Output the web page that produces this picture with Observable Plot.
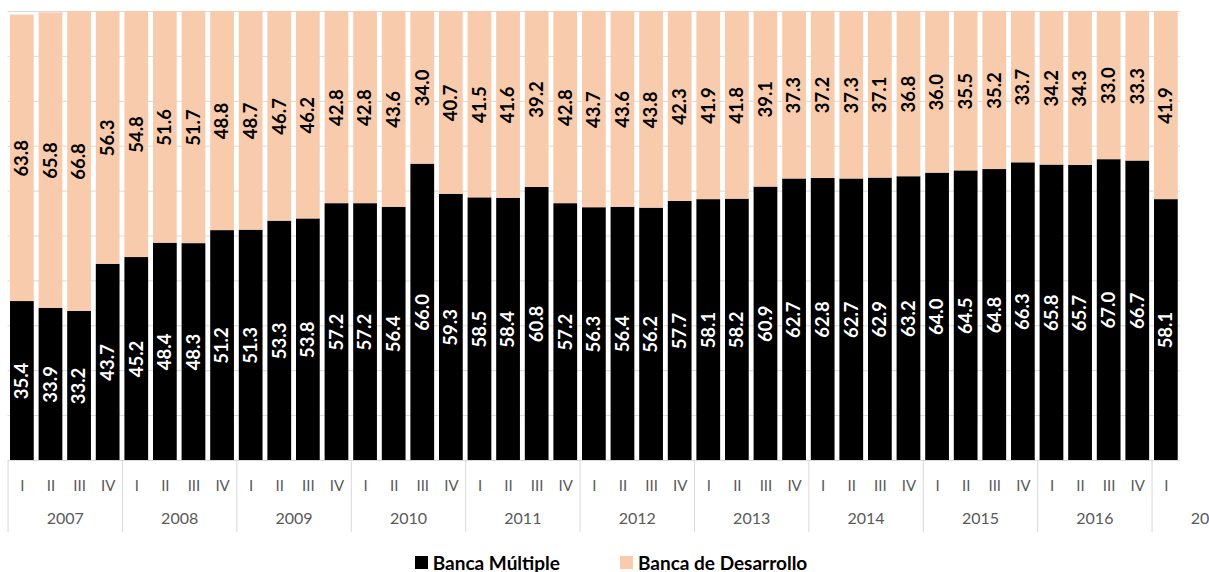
<!DOCTYPE html>
<html>
<head>
<meta charset="utf-8">
<script src="https://cdn.jsdelivr.net/npm/d3@7"></script>
<script src="https://cdn.jsdelivr.net/npm/@observablehq/plot@0.6"></script>
<style>
  html, body { margin: 0; padding: 0; background: #fff; overflow: hidden; }
  body { font-family: Lato, "Open Sans", sans-serif; width: 1209px; }
  #legend { display: flex; justify-content: center; align-items: center; gap: 60px; height: 27px; padding-left: 13px; padding-top: 4px;
            font-weight: bold; font-size: 19px; color: #000; }
  #legend .item { display: flex; align-items: center; gap: 5px; }
  #legend .sw { width: 13px; height: 13px; display: inline-block; }
</style>
</head>
<body>
<div id="chart"></div>
<div id="legend"></div>
<script>
const years = ["2007","2008","2009","2010","2011","2012","2013","2014","2015","2016","2017"];
const quarterLabels = ["I","II","III","IV"];
const seriesNames = ["Banca Múltiple","Banca de Desarrollo"];
const seriesColors = ["#000000","#F8CBAD"];
const bancaMultiple = [
  35.4,33.9,33.2,43.7, 45.2,48.4,48.3,51.2, 51.3,53.3,53.8,57.2, 57.2,56.4,66.0,59.3,
  58.5,58.4,60.8,57.2, 56.3,56.4,56.2,57.7, 58.1,58.2,60.9,62.7, 62.8,62.7,62.9,63.2,
  64.0,64.5,64.8,66.3, 65.8,65.7,67.0,66.7, 58.1
];
const bancaDesarrollo = [
  63.8,65.8,66.8,56.3, 54.8,51.6,51.7,48.8, 48.7,46.7,46.2,42.8, 42.8,43.6,34.0,40.7,
  41.5,41.6,39.2,42.8, 43.7,43.6,43.8,42.3, 41.9,41.8,39.1,37.3, 37.2,37.3,37.1,36.8,
  36.0,35.5,35.2,33.7, 34.2,34.3,33.0,33.3, 41.9
];

const rows = bancaMultiple.map((bm, i) => ({
  key: years[Math.floor(i / 4)] + "-" + quarterLabels[i % 4],
  bm, bd: bancaDesarrollo[i]
}));
const keys = rows.map(d => d.key);
const q1Keys = keys.filter(k => k.endsWith("-I"));

const W = 1209, H = 545, MT = 11, MB = 85;
const PAD = 0.17;
const step = 28.6;
const ML = 10 - PAD * step;                       // first bar starts at x = 10
const MR = W - (ML + step * (keys.length + PAD));
const axisColor = "#595959";
const gridColor = "#d9d9d9";

const chart = Plot.plot({
  width: W, height: H,
  marginLeft: ML, marginRight: MR, marginTop: MT, marginBottom: MB,
  style: { fontFamily: "Lato, 'Open Sans', sans-serif", background: "#fff", overflow: "visible" },
  x: { domain: keys, padding: PAD, round: false, axis: null, label: null },
  y: { domain: [0, 100], axis: null },
  marks: [
    Plot.ruleY(d3.range(0, 101, 10), { stroke: gridColor, strokeWidth: 1, insetLeft: 2.4, insetRight: 2.4 }),
    Plot.barY(rows, { x: "key", y1: 0, y2: "bm", fill: seriesColors[0] }),
    Plot.barY(rows, { x: "key", y1: "bm", y2: d => d.bm + d.bd, fill: seriesColors[1] }),
    Plot.text(rows, { x: "key", y: d => d.bm / 2, text: d => d.bm.toFixed(1), rotate: -90,
      fill: "#fff", fontWeight: "bold", fontSize: 18.5 }),
    Plot.text(rows, { x: "key", y: d => d.bm + d.bd / 2, text: d => d.bd.toFixed(1), rotate: -90,
      fill: "#000", fontWeight: "bold", fontSize: 18.5 }),
    Plot.axisX(keys, { anchor: "bottom", label: null, tickSize: 0, tickPadding: 20, tickFormat: k => k.split("-")[1],
      fill: axisColor, fontSize: 15 }),
    Plot.axisX(q1Keys, { anchor: "bottom", label: null, tickSize: 72, tickFormat: () => "", stroke: gridColor,
      dx: -step / 2 }),
    Plot.axisX(q1Keys, { anchor: "bottom", label: null, tickSize: 0, tickPadding: 52, tickFormat: k => k.split("-")[0],
      dx: 1.5 * step, fill: axisColor, fontSize: 16 })
  ]
});
document.getElementById("chart").appendChild(chart);

const legend = document.getElementById("legend");
seriesNames.forEach((name, i) => {
  const item = document.createElement("div");
  item.className = "item";
  const sw = document.createElement("span");
  sw.className = "sw";
  sw.style.background = seriesColors[i];
  const label = document.createElement("span");
  label.textContent = name;
  item.appendChild(sw);
  item.appendChild(label);
  legend.appendChild(item);
});
</script>
</body>
</html>
